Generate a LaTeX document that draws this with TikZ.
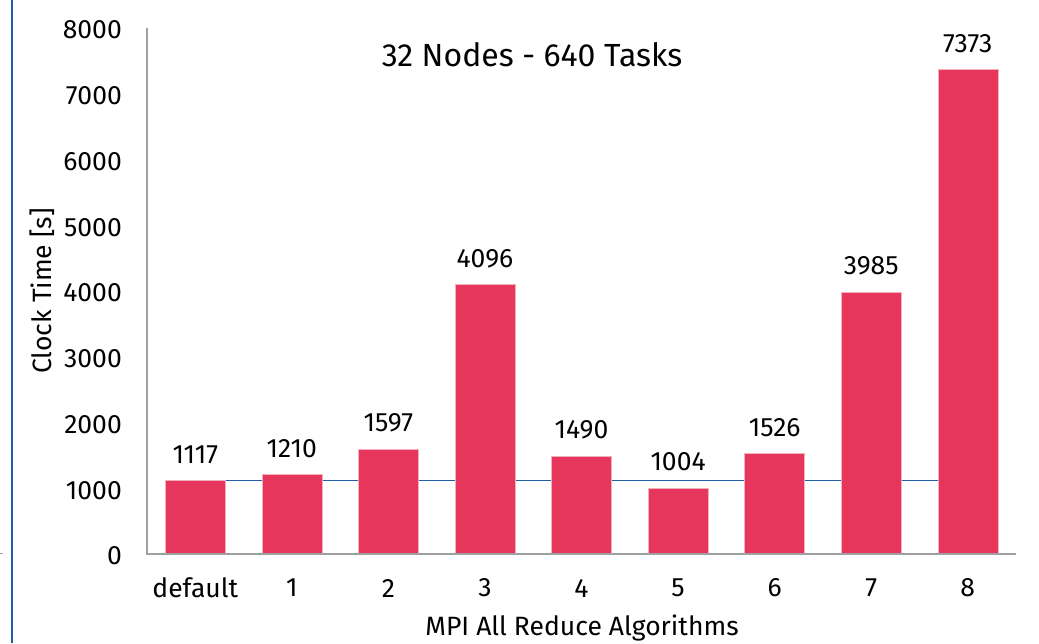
\documentclass[tikz,border=0pt]{standalone}
\usepackage{fontspec}
\setmainfont{Fira Sans}
\definecolor{barred}{RGB}{230,54,91}
\definecolor{lineblue}{RGB}{33,95,166}
\definecolor{axisgray}{RGB}{160,160,160}
\tikzset{
  tick/.style={anchor=east, font=\fontsize{26.5}{30}\selectfont, inner sep=0pt},
  cat/.style={anchor=center, font=\fontsize{26.5}{30}\selectfont, inner sep=0pt},
  val/.style={anchor=center, font=\fontsize{26.5}{30}\selectfont, inner sep=0pt},
  ttl/.style={anchor=center, font=\fontsize{32}{36}\selectfont, inner sep=0pt},
  axt/.style={anchor=center, font=\fontsize{26.5}{30}\selectfont, inner sep=0pt},
  barbox/.style={fill=barred, draw=barred!40, line width=0.4pt, minimum width=60pt, anchor=south, inner sep=0pt, outer sep=0pt},
}
\begin{document}
\begin{tikzpicture}[x=1pt,y=-1pt]
\useasboundingbox (0,0) rectangle (1039,643);
\fill[white] (0,0) rectangle (1039,643);
% left frame line
\coordinate (ft) at (12,0);
\coordinate (fb) at (12,643);
\draw[lineblue, line width=2pt] (ft) -- (fb);
\coordinate (m1) at (0,553);
\coordinate (m2) at (3,553);
\draw[axisgray, line width=0.8pt] (m1) -- (m2);
% axes
\coordinate (o) at (147,554);
\coordinate (yt) at (147,28);
\coordinate (xr) at (1016,554);
% reference line
\pgfmathsetmacro{\yref}{554-1117*0.06575}
\coordinate (r1) at (166,\yref);
\coordinate (r2) at (939,\yref);
\draw[lineblue, line width=1.3pt] (r1) -- (r2);
% ticks
\foreach \v in {0,1000,...,8000}{
  \pgfmathsetmacro{\yy}{554-\v*0.06575+2}
  \node[tick] (t\v) at (122,\yy) {\v};
}
% bars
\foreach \i/\lab/\v in {0/default/1117,1/1/1210,2/2/1597,3/3/4096,4/4/1490,5/5/1004,6/6/1526,7/7/3985,8/8/7373}{
  \pgfmathsetmacro{\cx}{147+(\i+0.5)*96.56}
  \pgfmathsetmacro{\hh}{\v*0.06575}
  \node[barbox, minimum height=\hh pt] (b\i) at (\cx,554) {};
  \node[val] (v\i) at ([yshift=26pt]b\i.north) {\v};
  \node[cat] (c\i) at (\cx,588) {\lab};
}
\draw[axisgray, line width=1.3pt] (yt) -- (o) -- (xr);
% titles
\node[ttl] (title) at (532,55) {32 Nodes - 640 Tasks};
\node[axt, rotate=90] (ylab) at (42,291) {Clock Time [s]};
\node[axt] (xlab) at (582,628) {MPI All Reduce Algorithms};
\end{tikzpicture}
\end{document}
